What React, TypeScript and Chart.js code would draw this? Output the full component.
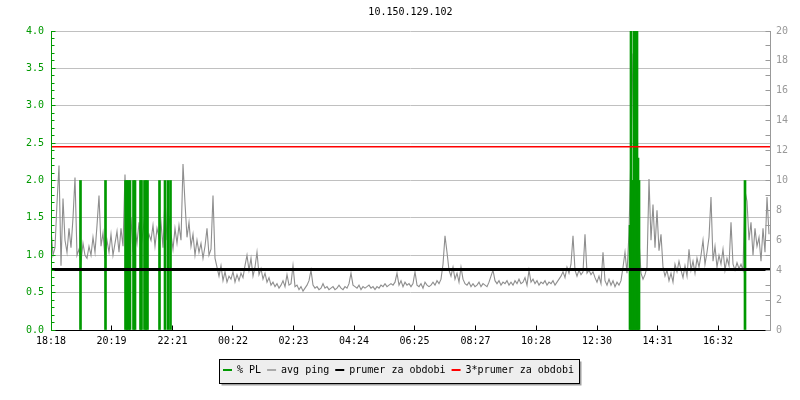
import React, { useEffect, useRef } from 'react';
import { Chart, registerables } from 'chart.js';

Chart.register(...registerables);

const FONT = '"DejaVu Sans Mono", monospace';
const GREEN = '#009900';
const GRAY = '#999999';
const PING_GRAY = '#8e8e8e';
const BLACK = '#000000';
const RED = '#ff0000';

const TITLE = '10.150.129.102';

// x axis: minutes since 18:18
const X_MAX = 1438;
const tickLabels = ['18:18', '20:19', '22:21', '00:22', '02:23', '04:24', '06:25', '08:27', '10:28', '12:30', '14:31', '16:32'];
const tickMinutes = [0, 121, 243, 364, 485, 606, 727, 849, 970, 1092, 1213, 1334];

// avg ping (ms, right axis), one sample every 4 minutes
const PING_STEP = 4;
const pingValues = [
  6.8, 5.0, 5.5, 8.5, 11.0, 4.3, 8.8, 6.0, 5.2, 6.8,
  5.5, 7.5, 10.2, 5.0, 5.4, 4.6, 5.8, 5.0, 4.8, 5.6,
  5.0, 6.2, 5.2, 7.0, 9.0, 5.6, 6.5, 4.8, 6.0, 5.2,
  6.4, 5.0, 5.8, 6.6, 5.2, 6.8, 5.6, 10.4, 6.0, 4.6,
  7.5, 5.2, 6.8, 5.8, 7.2, 5.5, 6.6, 7.8, 5.8, 6.4,
  6.0, 7.0, 5.6, 6.8, 6.2, 7.2, 5.5, 8.9, 6.0, 7.6,
  6.4, 5.4, 6.8, 5.8, 7.0, 6.0, 11.1, 8.5, 6.2, 7.2,
  5.6, 6.4, 5.0, 6.0, 5.2, 5.8, 4.8, 5.6, 6.8, 5.0,
  5.4, 9.0, 4.8, 4.2, 3.6, 4.3, 3.3, 3.9, 3.2, 3.6,
  3.4, 3.9, 3.2, 3.7, 3.3, 3.8, 3.5, 4.3, 5.0, 4.0,
  4.8, 3.6, 4.2, 5.2, 3.7, 4.1, 3.4, 3.8, 3.2, 3.5,
  3.0, 3.2, 2.9, 3.1, 2.8, 3.0, 3.3, 2.9, 3.7, 3.0,
  3.1, 4.3, 2.9, 3.0, 2.7, 2.9, 2.6, 2.8, 3.0, 3.3,
  4.0, 3.0, 2.8, 2.9, 2.7, 2.8, 3.1, 2.8, 2.9, 2.7,
  2.8, 2.9, 2.7, 2.8, 3.0, 2.8, 2.7, 2.9, 2.8, 3.1,
  3.8, 3.0, 2.9, 2.8, 3.0, 2.7, 2.9, 2.8, 2.9, 3.0,
  2.8, 2.9, 2.7, 2.9, 2.8, 3.0, 2.9, 3.1, 2.9, 3.0,
  3.1, 3.0, 3.2, 3.8, 3.0, 3.3, 2.9, 3.2, 3.0, 3.1,
  2.9, 3.1, 3.9, 3.0, 2.9, 3.1, 2.8, 3.2, 3.0, 2.9,
  3.0, 3.2, 3.0, 3.3, 3.1, 3.4, 4.4, 6.3, 5.2, 4.0,
  3.6, 4.2, 3.4, 3.8, 3.2, 4.2, 3.4, 3.1, 3.0, 3.2,
  2.9, 3.1, 2.9, 3.0, 3.2, 2.9, 3.1, 3.0, 2.9, 3.2,
  3.6, 4.0, 3.3, 3.1, 3.3, 3.0, 3.2, 3.1, 3.3, 3.0,
  3.2, 3.0, 3.3, 3.1, 3.4, 3.1, 3.2, 3.5, 3.0, 4.0,
  3.2, 3.4, 3.1, 3.3, 3.0, 3.2, 3.1, 3.3, 3.0, 3.2,
  3.1, 3.3, 3.0, 3.2, 3.4, 3.6, 3.9, 3.5, 4.2, 3.8,
  4.4, 6.3, 4.0, 3.6, 4.0, 3.7, 3.9, 6.4, 3.8, 4.0,
  3.7, 3.9, 3.5, 3.2, 3.6, 3.1, 5.2, 3.3, 3.0, 3.4,
  3.0, 3.3, 2.9, 3.2, 3.0, 3.3, 4.2, 5.2, 3.8, 6.5,
  12.0, 18.5, 15.0, 11.0, 6.0, 3.8, 3.4, 3.7, 4.2, 10.1,
  6.0, 8.4, 5.5, 8.0, 5.3, 6.4, 4.2, 3.6, 4.0, 3.3,
  3.8, 3.2, 4.4, 3.9, 4.6, 4.0, 3.5, 4.3, 3.6, 5.4,
  4.0, 4.6, 3.8, 4.8, 4.2, 5.0, 6.0, 4.4, 5.2, 6.2,
  8.9, 4.6, 5.6, 4.2, 5.0, 4.4, 5.4, 4.0, 4.8, 4.3,
  7.2, 4.4, 4.0, 4.5, 4.1, 4.4, 4.0, 9.3, 8.6, 6.0,
  7.2, 5.0, 6.8, 5.6, 6.2, 4.6, 6.8, 5.2, 8.9, 6.4,
];

// packet loss (left axis): minute and value of each spike
const plMinutes = [59, 109, 149, 152, 155, 158, 165, 168, 179, 181, 187, 190, 193, 217, 228, 234, 239,
  1158, 1160, 1162, 1164, 1166, 1168, 1170, 1172, 1174, 1176, 1388];
const plValues = [2.0, 2.0, 2.0, 2.0, 2.0, 2.0, 2.0, 2.0, 2.0, 2.0, 2.0, 2.0, 2.0, 2.0, 2.0, 2.0, 2.0,
  1.4, 5.0, 2.0, 2.0, 5.0, 2.0, 5.0, 5.0, 2.3, 2.0, 2.0];

const prumer = 4.04;
const prumer3 = 12.26;

const seriesLabels = ['% PL', 'avg ping', 'prumer za obdobi', '3*prumer za obdobi'];
const seriesColors = [GREEN, '#aaaaaa', BLACK, RED];

const axesPlugin = {
  id: 'jpAxes',
  afterDatasetsDraw(chart: any) {
    const { ctx, chartArea, scales } = chart;
    const { left, right, top, bottom } = chartArea;
    const yL = scales.y;
    const yR = scales.y2;
    const x = scales.x;
    const al = (p: number) => Math.round(p - 0.5) + 0.5;
    const L = al(left);
    const R = al(right);
    const B = al(bottom);
    ctx.save();
    ctx.lineWidth = 1;
    ctx.strokeStyle = BLACK;
    ctx.beginPath();
    ctx.moveTo(L, B);
    ctx.lineTo(R, B);
    x.ticks.forEach((t: any) => {
      const px = al(x.getPixelForValue(t.value));
      ctx.moveTo(px, B);
      ctx.lineTo(px, B - 5);
    });
    ctx.stroke();
    ctx.strokeStyle = GREEN;
    ctx.beginPath();
    ctx.moveTo(L, top);
    ctx.lineTo(L, B + 0.5);
    for (let k = 0; k <= 40; k++) {
      const py = al(yL.getPixelForValue(k / 10));
      const len = k % 5 === 0 ? 4 : 3;
      ctx.moveTo(L, py);
      ctx.lineTo(L + len, py);
    }
    ctx.stroke();
    ctx.strokeStyle = GRAY;
    ctx.beginPath();
    ctx.moveTo(R, top);
    ctx.lineTo(R, B + 0.5);
    for (let k = 0; k <= 20; k++) {
      const py = al(yR.getPixelForValue(k));
      ctx.moveTo(R, py);
      ctx.lineTo(R - 5, py);
    }
    ctx.stroke();
    ctx.restore();
  },
};

const legendPlugin = {
  id: 'boxLegend',
  afterDraw(chart: any) {
    const ctx = chart.ctx;
    ctx.save();
    ctx.font = `10px ${FONT}`;
    const boxX = 219.5, boxY = 359.5, boxW = 360, boxH = 24;
    ctx.fillStyle = '#a0a0a0';
    ctx.fillRect(boxX + 2, boxY + 2, boxW, boxH);
    ctx.fillStyle = '#eeeeee';
    ctx.fillRect(boxX, boxY, boxW, boxH);
    ctx.strokeStyle = '#000';
    ctx.lineWidth = 1;
    ctx.strokeRect(boxX, boxY, boxW, boxH);
    let cx = 223;
    const lineY = 370;
    seriesLabels.forEach((lab, i) => {
      ctx.fillStyle = seriesColors[i];
      ctx.fillRect(cx, lineY - 1, 9, 2);
      cx += 9 + 5;
      ctx.fillStyle = '#000';
      ctx.textBaseline = 'alphabetic';
      ctx.textAlign = 'left';
      ctx.fillText(lab, cx, 372.5);
      cx += ctx.measureText(lab).width + 6;
    });
    ctx.restore();
  },
};

export default function App() {
  const ref = useRef<HTMLCanvasElement | null>(null);
  useEffect(() => {
    if (!ref.current) return;
    const font = { family: FONT, size: 10, weight: 'normal' as const };
    const chart = new Chart(ref.current, {
      type: 'line',
      data: {
        datasets: [
          {
            type: 'bar',
            label: seriesLabels[0],
            yAxisID: 'y',
            data: plMinutes.map((m, i) => ({ x: m, y: plValues[i] })),
            backgroundColor: GREEN,
            borderWidth: 0,
            barThickness: 2,
            order: 2,
          } as any,
          {
            type: 'line',
            label: seriesLabels[1],
            yAxisID: 'y2',
            data: pingValues.map((v, i) => ({ x: i * PING_STEP, y: v })),
            borderColor: PING_GRAY,
            borderWidth: 1.1,
            pointRadius: 0,
            tension: 0,
            order: 3,
          },
          {
            type: 'line',
            label: seriesLabels[2],
            yAxisID: 'y2',
            data: [{ x: 0, y: prumer }, { x: X_MAX, y: prumer }],
            borderColor: BLACK,
            borderWidth: 3,
            pointRadius: 0,
            order: 1,
          },
          {
            type: 'line',
            label: seriesLabels[3],
            yAxisID: 'y2',
            data: [{ x: 0, y: prumer3 }, { x: X_MAX, y: prumer3 }],
            borderColor: RED,
            borderWidth: 1.5,
            pointRadius: 0,
            order: 0,
          },
        ],
      },
      options: {
        animation: false,
        responsive: false,
        devicePixelRatio: 1,
        layout: { padding: 0 },
        plugins: {
          legend: { display: false },
          tooltip: { enabled: false },
          title: {
            display: true,
            text: TITLE,
            fullSize: false,
            color: '#000',
            font,
            padding: { top: 6, bottom: 13 },
          },
        },
        scales: {
          x: {
            type: 'linear',
            min: 0,
            max: X_MAX,
            offset: false,
            grid: { display: false, drawTicks: false },
            border: { display: false },
            ticks: {
              autoSkip: false,
              maxRotation: 0,
              padding: 5,
              color: '#000',
              font,
              callback: (v: any) => {
                const i = tickMinutes.indexOf(Number(v));
                return i >= 0 ? tickLabels[i] : '';
              },
            },
            afterBuildTicks: (s: any) => {
              s.ticks = tickMinutes.map((v) => ({ value: v }));
            },
            afterFit: (s: any) => {
              s.height = 70;
            },
          },
          y: {
            type: 'linear',
            position: 'left',
            min: 0,
            max: 4,
            grid: { color: '#c0c0c0', drawTicks: false, lineWidth: 1 },
            border: { display: false },
            ticks: {
              stepSize: 0.5,
              padding: 7,
              color: GREEN,
              font,
              autoSkip: false,
              callback: (v: any) => Number(v).toFixed(1),
            },
            afterFit: (s: any) => {
              s.width = 51;
            },
          },
          y2: {
            type: 'linear',
            position: 'right',
            min: 0,
            max: 20,
            grid: { display: false, drawTicks: false },
            border: { display: false },
            ticks: {
              stepSize: 2,
              padding: 6,
              color: GRAY,
              font,
              autoSkip: false,
            },
            afterFit: (s: any) => {
              s.width = 30;
            },
          },
        },
      } as any,
      plugins: [axesPlugin, legendPlugin],
    });
    return () => chart.destroy();
  }, []);

  return (
    <div style={{ position: 'fixed', left: 0, top: 0, width: 800, height: 400, background: '#fff' }}>
      <canvas ref={ref} width={800} height={400} />
    </div>
  );
}
